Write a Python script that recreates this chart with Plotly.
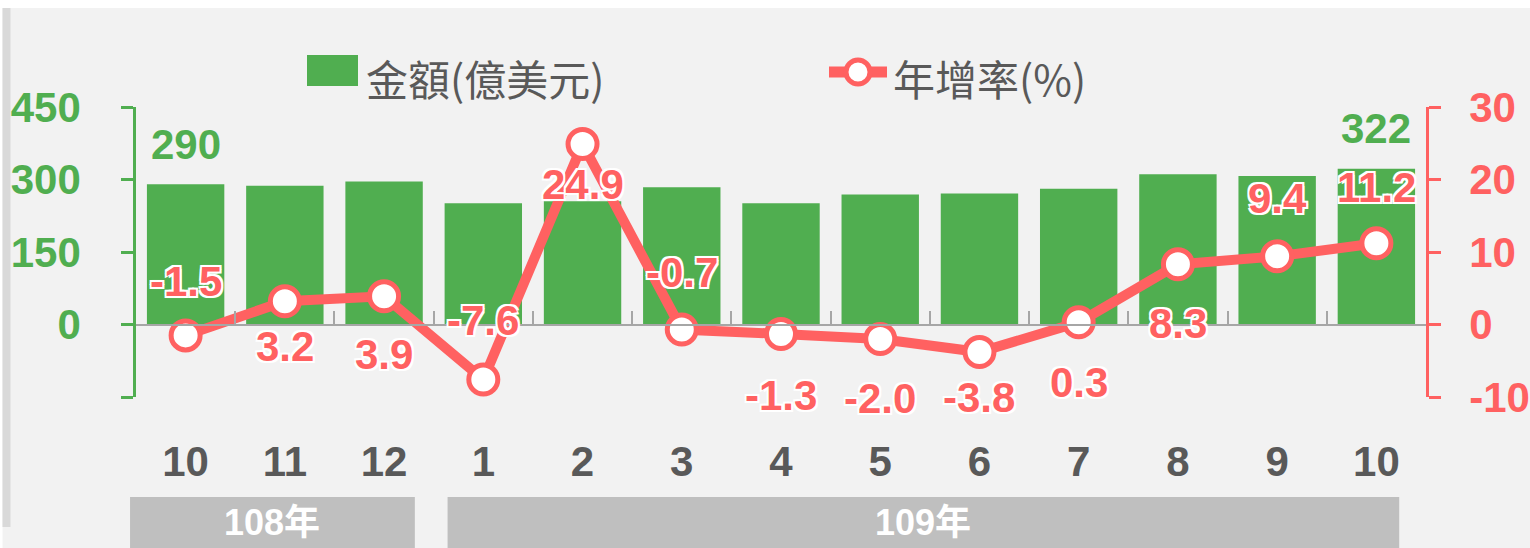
import plotly.graph_objects as go

# ---------------- data ----------------
years = ["108", "108", "108", "109", "109", "109", "109", "109", "109", "109", "109", "109", "109"]
months = ["10", "11", "12", "1", "2", "3", "4", "5", "6", "7", "8", "9", "10"]
amount = [290, 287, 296, 251, 255, 284, 251, 269, 271, 281, 311, 307, 322]
growth = [-1.5, 3.2, 3.9, -7.6, 24.9, -0.7, -1.3, -2.0, -3.8, 0.3, 8.3, 9.4, 11.2]
growth_label_side = ["above", "below", "below", "above", "below", "above", "below",
                     "below", "below", "below", "below", "above", "above"]
amount_labelled = [0, 12]
year_groups = ["108年", "109年"]
year_spans = [(0, 2), (3, 12)]
y_left_ticks = [-150, 0, 150, 300, 450]
y_left_text = ["", "0", "150", "300", "450"]
y_right_ticks = [-10, 0, 10, 20, 30]
y_right_text = ["-10", "0", "10", "20", "30"]
legend_names = ["金額(億美元)", "年增率(%)"]

# ---------------- style ----------------
GREEN = "#50AE50"
RED = "#FF6161"
GRAY_TXT = "#595959"
NUM_FONT = "Liberation Sans Narrow, Liberation Sans, Arial"
CJK_FONT = "Noto Sans CJK TC"
W, H = 1530, 548
L, R, T, B = 136, 104, 107, 151
PW, PH = W - L - R, H - T - B
YL = (-150, 450)
YR = (-10, 30)
label_offset = [54, 45, 58, 59, 41, 57, 62, 59, 45, 60, 59, 58, 56]


def fx(px):
    return (px - L) / PW


def fy(py):
    return (H - B - py) / PH


keys = [f"{y}-{m}" for y, m in zip(years, months)]
n_cat = len(keys)


def cat_to_paper(c):
    return (c + 0.5) / n_cat


fig = go.Figure()
fig.add_trace(go.Bar(
    x=keys, y=amount, name=legend_names[0], marker=dict(color=GREEN, line=dict(width=0)),
    width=0.78, yaxis="y", showlegend=False, hoverinfo="x+y"))
fig.add_trace(go.Scatter(
    x=keys, y=growth, name=legend_names[1], mode="lines+markers", yaxis="y2",
    line=dict(color=RED, width=10),
    marker=dict(size=29, color="white", line=dict(color=RED, width=5)),
    showlegend=False))

annotations = []
shadow = "-2px -2px 0 #fff, 2px -2px 0 #fff, -2px 2px 0 #fff, 2px 2px 0 #fff, 0 0 3px #fff"
for k, g, side, off in zip(keys, growth, growth_label_side, label_offset):
    annotations.append(dict(
        x=k, y=g, xref="x", yref="y2", text=f"{g:.1f}", showarrow=False,
        yshift=off if side == "above" else -off,
        font=dict(family=NUM_FONT, size=42, color=RED, weight="bold", shadow=shadow)))
for i in amount_labelled:
    annotations.append(dict(
        x=keys[i], y=amount[i], xref="x", yref="y", text=str(amount[i]), showarrow=False,
        yshift=40, font=dict(family=NUM_FONT, size=42, color=GREEN, weight="bold")))

shapes = []
# background decoration
shapes.append(dict(type="rect", xref="paper", yref="paper", x0=fx(0), x1=fx(W), y0=fy(8), y1=fy(-5),
                   fillcolor="white", line=dict(width=0), layer="below"))
shapes.append(dict(type="rect", xref="paper", yref="paper", x0=fx(0), x1=fx(2.5), y0=fy(W), y1=fy(-5),
                   fillcolor="white", line=dict(width=0), layer="below"))
shapes.append(dict(type="rect", xref="paper", yref="paper", x0=fx(2.5), x1=fx(10.5), y0=fy(527), y1=fy(8),
                   fillcolor="#D9D9D9", line=dict(width=0), layer="below"))

# year group boxes
pads = [(-0.56, 0.31), (-0.36, 0.23)]
for (s, e), name, (p0, p1) in zip(year_spans, year_groups, pads):
    x0, x1 = cat_to_paper(s + p0), cat_to_paper(e + p1)
    shapes.append(dict(type="rect", xref="paper", yref="paper", x0=x0, x1=x1,
                       y0=fy(560), y1=fy(497), fillcolor="#BFBFBF", line=dict(width=0)))
    annotations.append(dict(x=(x0 + x1) / 2, y=fy(522), xref="paper", yref="paper",
                            text=name, showarrow=False, xanchor="center", yanchor="middle",
                            font=dict(family=NUM_FONT + ", " + CJK_FONT, size=36, color="white",
                                      weight="bold")))

# manual legend
shapes.append(dict(type="rect", xref="paper", yref="paper", x0=fx(307), x1=fx(358), y0=fy(86), y1=fy(55),
                   fillcolor=GREEN, line=dict(width=0)))
annotations.append(dict(x=fx(364), y=fy(77), xref="paper", yref="paper", text=legend_names[0],
                        showarrow=False, xanchor="left", yanchor="middle",
                        font=dict(family=CJK_FONT, size=42, color=GRAY_TXT)))
shapes.append(dict(type="line", xref="paper", yref="paper", x0=fx(829), x1=fx(887), y0=fy(72), y1=fy(72),
                   line=dict(color=RED, width=11)))
shapes.append(dict(type="circle", xref="paper", yref="paper", x0=fx(846), x1=fx(870), y0=fy(84), y1=fy(60),
                   fillcolor="white", line=dict(color=RED, width=5)))
annotations.append(dict(x=fx(891), y=fy(77), xref="paper", yref="paper", text=legend_names[1],
                        showarrow=False, xanchor="left", yanchor="middle",
                        font=dict(family=CJK_FONT, size=42, color=GRAY_TXT)))

fig.update_layout(
    width=W, height=H,
    margin=dict(l=L, r=R, t=T, b=B, pad=0, autoexpand=False),
    paper_bgcolor="#F2F2F2", plot_bgcolor="rgba(0,0,0,0)",
    bargap=0.22, showlegend=False,
    xaxis=dict(
        type="category", categoryorder="array", categoryarray=keys,
        range=[-0.5, n_cat - 0.5],
        tickmode="array", tickvals=keys, ticktext=months,
        tickson="boundaries", ticks="inside", ticklen=13, tickwidth=1.5, tickcolor="#A6A6A6",
        showline=True, linecolor="#A6A6A6", linewidth=2,
        anchor="free", position=(0 - YL[0]) / (YL[1] - YL[0]),
        ticklabelstandoff=100, automargin=False,
        tickfont=dict(family=NUM_FONT, size=42, color=GRAY_TXT, weight="bold"),
        showgrid=False, zeroline=False),
    yaxis=dict(
        range=list(YL), tickmode="array", tickvals=y_left_ticks, ticktext=y_left_text,
        showline=True, linecolor=GREEN, linewidth=2.5,
        ticks="outside", ticklen=12, tickwidth=2.5, tickcolor=GREEN,
        ticklabelstandoff=32, automargin=False,
        tickfont=dict(family=NUM_FONT, size=42, color=GREEN, weight="bold"),
        showgrid=False, zeroline=False),
    yaxis2=dict(
        range=list(YR), tickmode="array", tickvals=y_right_ticks, ticktext=y_right_text,
        overlaying="y", side="right", anchor="x",
        showline=True, linecolor=RED, linewidth=2.5,
        ticks="outside", ticklen=12, tickwidth=2.5, tickcolor=RED,
        ticklabelstandoff=20, automargin=False,
        tickfont=dict(family=NUM_FONT, size=42, color=RED, weight="bold"),
        showgrid=False, zeroline=False),
    annotations=annotations, shapes=shapes,
)

fig.write_html(
    "out.html",
    config={"displayModeBar": False},
    post_script="document.body.style.margin='0';document.body.style.overflow='hidden';")
